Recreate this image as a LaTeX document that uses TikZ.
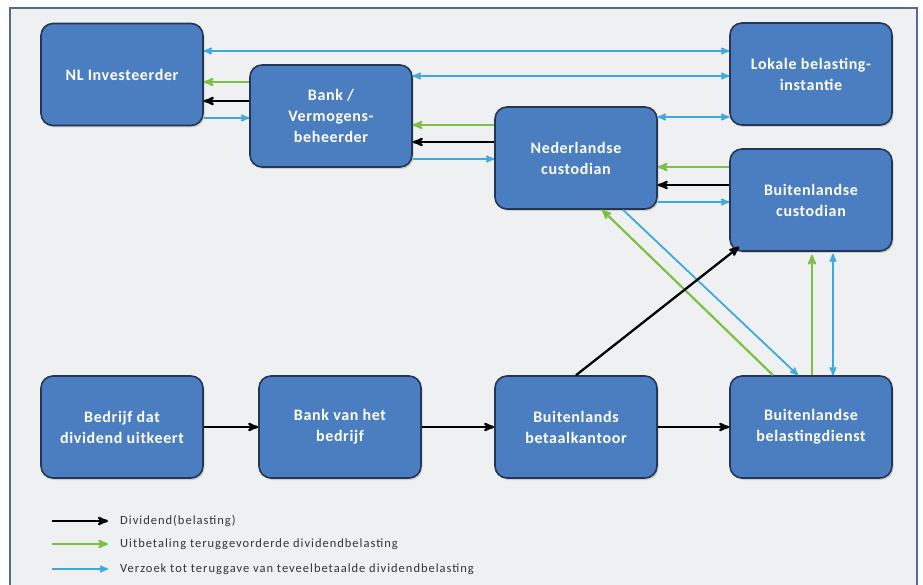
\documentclass[tikz,border=0pt]{standalone}
\usepackage{fontspec}
\setmainfont{Carlito}
\newfontfamily\boxfont{Carlito}[LetterSpace=4]
\newfontfamily\legfont{Carlito}[LetterSpace=8]
\usetikzlibrary{arrows,shadows}
\definecolor{boxblue}{RGB}{74,126,192}
\definecolor{boxline}{RGB}{36,54,84}
\definecolor{pijlgroen}{RGB}{125,192,68}
\definecolor{pijlblauw}{RGB}{62,168,224}
\definecolor{kader}{RGB}{84,105,150}
\definecolor{achtergrond}{RGB}{239,240,242}
\tikzset
    {
        inst/.style = {rectangle, rounded corners=12pt, draw=boxline, line width=1.6pt,
                       fill=boxblue, text=white, align=center,
                       font=\boxfont\bfseries\fontsize{16}{21}\selectfont,
                       minimum width=162pt, minimum height=102pt, inner sep=0pt,
                       drop shadow={shadow xshift=1.5pt, shadow yshift=-2pt, opacity=0.3}},
        div/.style = {black, line width=2.3pt},
        terug/.style = {pijlgroen, line width=2.2pt},
        verzoek/.style = {pijlblauw, line width=1.8pt},
        legtekst/.style = {anchor=west, inner sep=0pt, text=black!80, font=\legfont\fontsize{12.5}{14}\selectfont}
    }

\begin{document}
\begin{tikzpicture}[x=1pt, y=-1pt, >=stealth']
    \useasboundingbox (0,0) rectangle (923,585);
    \fill[white] (0,0) rectangle (923,585);
    \draw[kader, line width=2pt, fill=achtergrond] (10,8) rectangle (917,600);

    % instanties
    \node [inst] (nl)   at (122,74.5) {NL Investeerder};
    \node [inst] (bank) at (331,116)  {Bank /\\Vermogens-\\beheerder};
    \node [inst] (lok)  at (811,74)   {Lokale belasting-\\instantie};
    \node [inst] (ned)  at (576,158)  {Nederlandse\\custodian};
    \node [inst] (bc)   at (811,200)  {Buitenlandse\\custodian};
    \node [inst] (bedr) at (122,427)  {Bedrijf dat\\dividend uitkeert};
    \node [inst] (bvb)  at (340,427)  {Bank van het\\bedrijf};
    \node [inst] (bk)   at (576,427)  {Buitenlands\\betaalkantoor};
    \node [inst] (bel)  at (811,427)  {Buitenlandse\\belastingdienst};

    % bovenste rij
    \draw [verzoek, <->] (nl.east |- 0,51) -- (lok.west |- 0,51);
    \draw [verzoek, <->] (bank.east |- 0,76) -- (lok.west |- 0,76);
    \draw [terug, ->] (bank.west |- 0,82) -- (nl.east |- 0,82);
    \draw [div, ->] (bank.west |- 0,101) -- (nl.east |- 0,101);
    \draw [verzoek, ->] (nl.east |- 0,118) -- (bank.west |- 0,118);
    \draw [terug, ->] (ned.west |- 0,125) -- (bank.east |- 0,125);
    \draw [div, ->] (ned.west |- 0,142) -- (bank.east |- 0,142);
    \draw [verzoek, ->] (bank.east |- 0,159) -- (ned.west |- 0,159);
    \draw [verzoek, <->] (ned.east |- 0,117) -- (lok.west |- 0,117);
    \draw [terug, ->] (bc.west |- 0,167) -- (ned.east |- 0,167);
    \draw [div, ->] (bc.west |- 0,185) -- (ned.east |- 0,185);
    \draw [verzoek, ->] (ned.east |- 0,202) -- (bc.west |- 0,202);

    % schuine en verticale pijlen
    \draw [terug, ->] ([xshift=-38pt]bel.north) -- ([xshift=26pt]ned.south);
    \draw [verzoek, ->] ([xshift=47pt]ned.south) -- ([xshift=-13pt]bel.north);
    \draw [div, ->] (bk.north) -- ([xshift=10pt,yshift=5pt]bc.south west);
    \draw [terug, ->] ([xshift=1pt]bel.north) -- ([xshift=1pt,yshift=-3pt]bc.south);
    \draw [verzoek, <->] ([xshift=22pt]bel.north) -- ([xshift=22pt,yshift=-2pt]bc.south);

    % onderste rij
    \draw [div, ->] (bedr) -- (bvb);
    \draw [div, ->] (bvb) -- (bk);
    \draw [div, ->] (bk) -- (bel);

    % legenda
    \coordinate (l1a) at (52,521);  \coordinate (l1b) at (108,521);
    \coordinate (l2a) at (52,544);  \coordinate (l2b) at (108,544);
    \coordinate (l3a) at (52,569);  \coordinate (l3b) at (108,569);
    \draw [div, ->] (l1a) -- (l1b);
    \draw [terug, ->] (l2a) -- (l2b);
    \draw [verzoek, ->] (l3a) -- (l3b);
    \node [legtekst] (t1) at (120,521) {Dividend(belasting)};
    \node [legtekst] (t2) at (120,544) {Uitbetaling teruggevorderde dividendbelasting};
    \node [legtekst] (t3) at (120,569) {Verzoek tot teruggave van teveelbetaalde dividendbelasting};
\end{tikzpicture}
\end{document}
